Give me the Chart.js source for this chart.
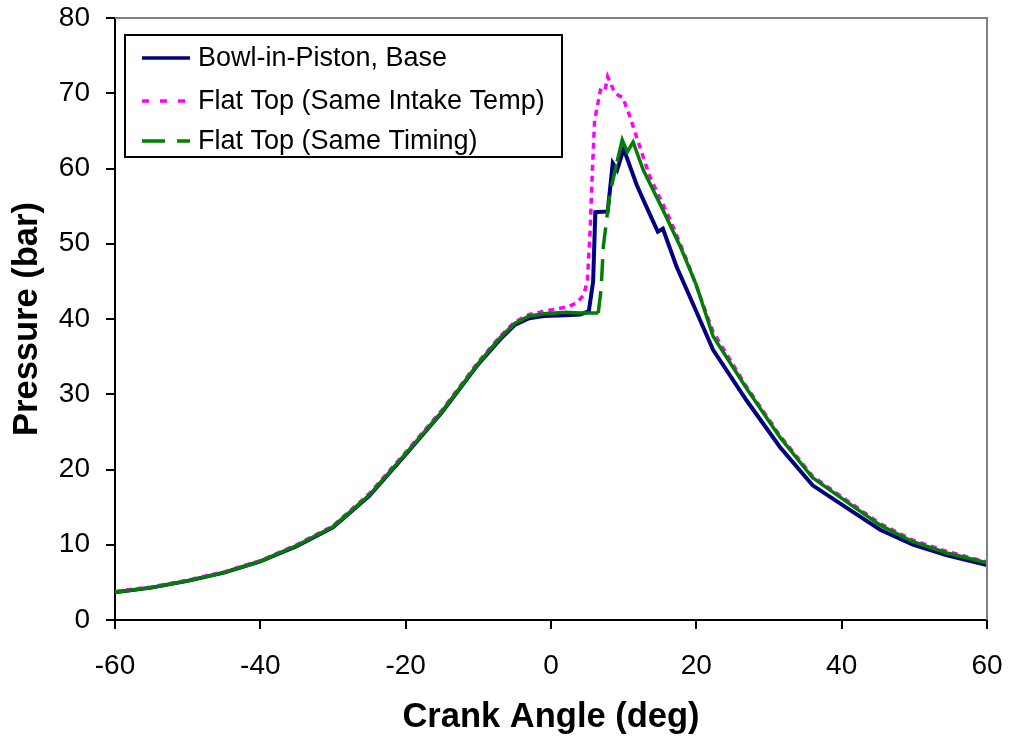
<!DOCTYPE html>
<html>
<head>
<meta charset="utf-8">
<script src="https://cdn.jsdelivr.net/npm/chart.js@4.4.1/dist/chart.umd.min.js"></script>
<style>
  html, body { margin: 0; padding: 0; background: #ffffff; }
  #wrap { width: 1010px; height: 738px; }
</style>
</head>
<body>
<div id="wrap"><canvas id="c" width="1010" height="738"></canvas></div>
<script>
// ---- Data ----
const seriesNames = ["Bowl-in-Piston, Base", "Flat Top (Same Intake Temp)", "Flat Top (Same Timing)"];

const baseAngle = [-60,-55,-50,-45,-40,-35,-30,-25,-20,-15,-10,-7,-5,-3,-1,2,4,5.2,5.8,6.1,7.8,8.5,9.1,10,11.8,13,14.7,15.4,17.3,19.5,22.3,26.9,31.5,36,40.7,45.3,49.8,54.5,60];
const basePressure = [3.7,4.3,5.2,6.3,7.8,9.8,12.3,16.5,22.0,27.6,34.0,37.3,39.2,40.1,40.4,40.5,40.6,41.0,45,54.2,54.3,60.7,59.8,62.6,57.8,55.2,51.6,52.0,46.9,42.1,35.9,29.2,23.0,17.9,14.9,12.0,10.0,8.6,7.3];

const tempAngle = [-60,-55,-50,-45,-40,-35,-30,-25,-20,-15,-10,-7,-5,-3,-1,0,2.2,3.5,4.5,5.0,5.4,5.6,6.0,6.8,7.4,7.8,8.8,9.9,10.9,11.6,13.6,16.4,18.7,22.3,26.9,31.5,36,40.7,45.3,49.8,54.5,60];
const tempPressure = [3.8,4.4,5.3,6.4,7.9,10.0,12.5,16.8,22.3,27.9,34.3,37.7,39.6,40.6,41.0,41.2,41.6,42.1,43.2,45,52,57.5,66.4,70.4,70.2,72.2,70,69.4,66.8,64.7,58.9,53.2,47.8,38.3,31.0,24.5,19.1,15.9,12.8,10.6,9.1,7.7];

const timingAngle = [-60,-55,-50,-45,-40,-35,-30,-25,-20,-15,-10,-7,-5,-3,-1,2,4,6.5,6.9,7.2,8.1,9.1,9.8,10.5,11.3,12.7,15.4,17.8,20,22.3,26.9,31.5,36,40.7,45.3,49.8,54.5,60];
const timingPressure = [3.7,4.3,5.2,6.3,7.8,9.9,12.4,16.6,22.1,27.7,34.1,37.5,39.4,40.4,40.7,40.9,40.8,40.8,44,49.6,56.7,60.9,63.8,62.2,63.5,59.8,54.5,49.6,44.5,37.7,30.8,24.3,18.9,15.7,12.6,10.4,8.9,7.6];

const xTicks = [-60,-40,-20,0,20,40,60];
const yTicks = [0,10,20,30,40,50,60,70,80];

function pts(xs, ys) { return xs.map((x, i) => ({ x: x, y: ys[i] })); }

const NAVY = '#000080', MAGENTA = '#FF00FF', GREEN = '#008000';

const legendPlugin = {
  id: 'boxLegend',
  afterDatasetsDraw(chart) {
    const ctx = chart.ctx;
    const area = chart.chartArea;
    ctx.save();
    // gray top and right border of plot area
    ctx.strokeStyle = '#808080';
    ctx.lineWidth = 2;
    ctx.beginPath();
    ctx.moveTo(area.left, area.top);
    ctx.lineTo(area.right, area.top);
    ctx.lineTo(area.right, area.bottom);
    ctx.stroke();

    // legend box
    const bx = 125, by = 35, bw = 437, bh = 122;
    ctx.fillStyle = '#ffffff';
    ctx.fillRect(bx, by, bw, bh);
    ctx.strokeStyle = '#000000';
    ctx.lineWidth = 2;
    ctx.strokeRect(bx, by, bw, bh);
    const rows = [58, 101, 141];
    const dashes = [[], [7, 11], [23, 12]];
    chart.data.datasets.forEach((ds, i) => {
      const y = rows[i];
      ctx.strokeStyle = ds.borderColor;
      ctx.lineWidth = 3.5;
      ctx.setLineDash(dashes[i]);
      ctx.lineCap = 'butt';
      ctx.beginPath();
      ctx.moveTo(142, y);
      ctx.lineTo(190, y);
      ctx.stroke();
      ctx.setLineDash([]);
      ctx.fillStyle = '#000000';
      ctx.font = '27px "Liberation Sans", Arial, sans-serif';
      ctx.textBaseline = 'middle';
      ctx.textAlign = 'left';
      ctx.fillText(ds.label, 198, y + 1);
    });
    ctx.restore();
  }
};

new Chart(document.getElementById('c'), {
  type: 'line',
  data: {
    datasets: [
      {
        label: seriesNames[0],
        data: pts(baseAngle, basePressure),
        borderColor: NAVY, backgroundColor: NAVY,
        borderWidth: 4, pointRadius: 0, tension: 0, order: 2
      },
      {
        label: seriesNames[1],
        data: pts(tempAngle, tempPressure),
        borderColor: MAGENTA, backgroundColor: MAGENTA,
        borderWidth: 3.5, borderDash: [6, 5], pointRadius: 0, tension: 0, order: 1
      },
      {
        label: seriesNames[2],
        data: pts(timingAngle, timingPressure),
        borderColor: GREEN, backgroundColor: GREEN,
        borderWidth: 3.5, pointRadius: 0, tension: 0, order: 0,
        segment: {
          borderDash: c => (c.p0.parsed.x >= 6.5 && c.p1.parsed.x <= 9.2) ? [22, 10] : undefined
        }
      }
    ]
  },
  options: {
    responsive: false,
    animation: false,
    devicePixelRatio: 1,
    layout: { padding: 0 },
    plugins: { legend: { display: false }, tooltip: { enabled: false } },
    scales: {
      x: {
        type: 'linear', min: -60, max: 60,
        afterFit: s => { s.height = 118; s.paddingLeft = 0; s.paddingRight = 23; },
        afterBuildTicks: s => { s.ticks = xTicks.map(v => ({ value: v })); },
        ticks: { color: '#000', font: { family: '"Liberation Sans", Arial, sans-serif', size: 28 }, padding: 20, maxRotation: 0 },
        grid: { display: true, drawOnChartArea: false, drawTicks: true, tickLength: 9, color: '#000', lineWidth: 2 },
        border: { display: true, color: '#000', width: 2 },
        title: { display: true, text: 'Crank Angle (deg)', color: '#000',
          font: { family: '"Liberation Sans", Arial, sans-serif', size: 34.5, weight: 'bold' },
          padding: { top: 0, bottom: 0 } }
      },
      y: {
        type: 'linear', min: 0, max: 80,
        afterFit: s => { s.width = 115; s.paddingTop = 18; s.paddingBottom = 0; },
        afterBuildTicks: s => { s.ticks = yTicks.map(v => ({ value: v })); },
        ticks: { color: '#000', font: { family: '"Liberation Sans", Arial, sans-serif', size: 28 }, padding: 16 },
        grid: { display: true, drawOnChartArea: false, drawTicks: true, tickLength: 9, color: '#000', lineWidth: 2 },
        border: { display: true, color: '#000', width: 2 },
        title: { display: true, text: 'Pressure (bar)', color: '#000',
          font: { family: '"Liberation Sans", Arial, sans-serif', size: 34.5, weight: 'bold' },
          padding: { top: 7, bottom: 0 } }
      }
    }
  },
  plugins: [legendPlugin]
});
</script>
</body>
</html>
